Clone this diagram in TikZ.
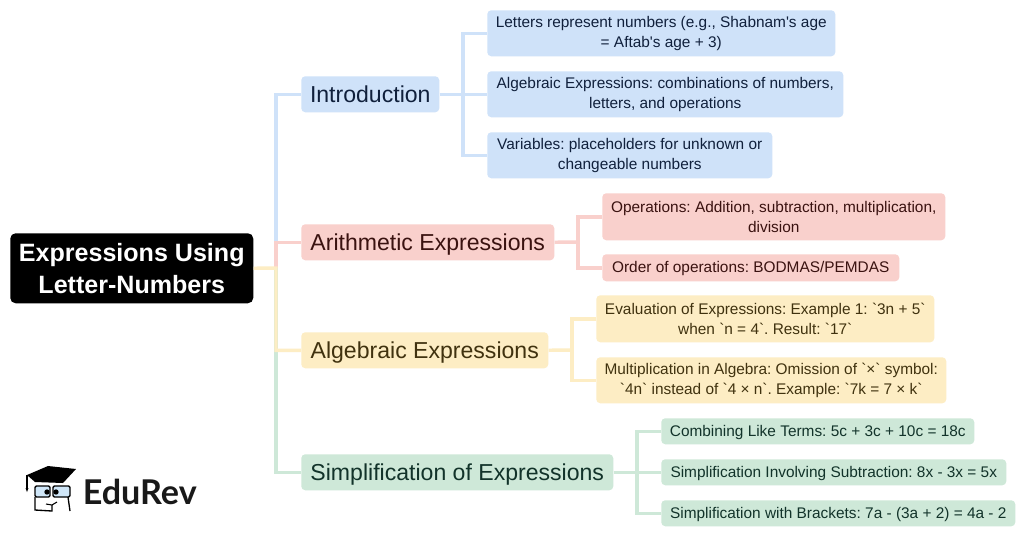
\documentclass[tikz,border=0pt]{standalone}
\usepackage{fontspec}
\newfontfamily\lf{Liberation Sans}
\newfontfamily\logof{Lato}
\definecolor{bluebg}{HTML}{CFE2F9}\definecolor{bluetx}{HTML}{10203C}
\definecolor{redbg}{HTML}{F9D0CC}\definecolor{redtx}{HTML}{3A1210}
\definecolor{yelbg}{HTML}{FDEDC4}\definecolor{yeltx}{HTML}{40320F}
\definecolor{grnbg}{HTML}{CEE8D8}\definecolor{grntx}{HTML}{12332A}
\definecolor{glass}{HTML}{CFE6F8}
\tikzset{
 x=0.75pt,y=-0.75pt,
 box/.style={rounded corners=3pt,inner sep=0pt,align=center,anchor=north west},
 leaf/.style={box,font=\frenchspacing\lf\fontsize{11.55}{15}\selectfont},
 one/.style={text height=13.3pt,text depth=6.2pt},
 mid/.style={box,font=\frenchspacing\lf\fontsize{17.3}{22}\selectfont,text height=19.5pt,text depth=7.5pt},
 blue/.style={fill=bluebg,text=bluetx},
 red/.style={fill=redbg,text=redtx},
 yel/.style={fill=yelbg,text=yeltx},
 grn/.style={fill=grnbg,text=grntx},
 wire/.style={line width=2.6pt,line join=miter},
 bx/.style 2 args={minimum width=#1*0.75pt,minimum height=#2*0.75pt},
}
\begin{document}
\begin{tikzpicture}
\useasboundingbox (0,0) rectangle (1024,536);
\fill[white] (0,0) rectangle (1024,536);
\node[box,fill=black,text=white,font=\lf\bfseries\fontsize{18.8}{24}\selectfont,bx={243}{70},rounded corners=4pt] (root) at (10,233) {Expressions Using\\Letter-Numbers};
\node[mid,blue,bx={138}{36}] (intro) at (301,76) {Introduction};
\node[mid,red,bx={253}{36}] (arith) at (301,224) {Arithmetic Expressions};
\node[mid,yel,bx={247}{36}] (alg) at (301,332) {Algebraic Expressions};
\node[mid,grn,bx={312}{36}] (simp) at (301,454) {Simplification of Expressions};
\node[leaf,blue,bx={348}{46}] (l1) at (487,10) {Letters represent numbers (e.g., Shabnam's age\\= Aftab's age + 3)};
\node[leaf,blue,bx={356}{46}] (l2) at (487,71) {Algebraic Expressions: combinations of numbers,\\letters, and operations};
\node[leaf,blue,bx={285}{46}] (l3) at (487,132) {Variables: placeholders for unknown or\\changeable numbers};
\node[leaf,red,bx={343}{47}] (a1) at (602,193) {Operations: Addition, subtraction, multiplication,\\division};
\node[leaf,one,red,bx={297}{27}] (a2) at (602,254) {Order of operations: BODMAS/PEMDAS};
\node[leaf,yel,bx={338}{47}] (b1) at (596,295) {Evaluation of Expressions: Example 1: `3n + 5`\\when `n = 4`. Result: `17`};
\node[leaf,yel,bx={350}{46}] (b2) at (596,357) {Multiplication in Algebra: Omission of `×` symbol:\\`4n` instead of `4 × n`. Example: `7k = 7 × k`};
\node[leaf,one,grn,bx={313}{26}] (s1) at (661,418) {Combining Like Terms: 5c + 3c + 10c = 18c};
\node[leaf,one,grn,bx={345}{26}] (s2) at (661,459) {Simplification Involving Subtraction: 8x - 3x = 5x};
\node[leaf,one,grn,bx={354}{26}] (s3) at (661,500) {Simplification with Brackets: 7a - (3a + 2) = 4a - 2};
\coordinate (trunk) at (276,268);
\coordinate (jb) at (463,94);
\coordinate (jr) at (578,242);
\coordinate (jy) at (572,350);
\coordinate (jg) at (637,472);
\draw[wire,bluebg] (trunk) |- (intro.west);
\draw[wire,redbg] (trunk) |- (arith.west);
\draw[wire,grnbg] (trunk) |- (simp.west);
\draw[wire,yelbg] (root.east) -- (trunk) |- (alg.west);
\draw[wire,bluebg] (intro.east) -- (l2.west);
\draw[wire,bluebg] (l1.west) -| (jb) |- (l3.west);
\draw[wire,redbg] (arith.east) -- (jr);
\draw[wire,redbg] (a1.west) -| (jr) |- (a2.west);
\draw[wire,yelbg] (alg.east) -- (jy);
\draw[wire,yelbg] (b1.west) -| (jy) |- (b2.west);
\draw[wire,grnbg] (simp.east) -- (s2.west);
\draw[wire,grnbg] (s1.west) -| (jg) |- (s3.west);
% logo
\fill[black] (27,475) -- (48,466) -- (76,469) -- (63,483) -- (35,482) -- cycle;
\draw[black,line width=0.8pt] (27,475) -- (27,488);
\fill[black] (25.5,488) -- (28.5,488) -- (27,492) -- cycle;
\draw[black,line width=1pt,fill=glass,rounded corners=1pt] (35,486) rectangle (50,497);
\draw[black,line width=1pt,fill=glass,rounded corners=1pt] (53,486) rectangle (70,497);
\draw[black,line width=1pt] (35,497) -- (35,510) -- (52,511) -- (52,505);
\draw[black,line width=1pt] (68,497) -- (70,511);
\draw[black,line width=0.8pt] (46,504) -- (52,505) -- (57,502);
\fill[black] (47,492) circle (2pt) (56,492) circle (2pt);
\node[font=\logof\bfseries\fontsize{25.6}{28}\selectfont,text=black!90,inner sep=0pt,anchor=base west] (logo) at (82.5,504) {EduRev};
\end{tikzpicture}
\end{document}
